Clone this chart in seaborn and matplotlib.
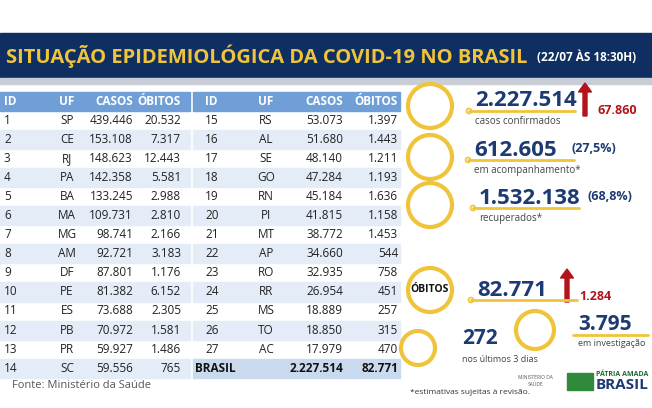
import matplotlib
matplotlib.use("Agg")
import matplotlib.pyplot as plt
import seaborn as sns
from matplotlib.patches import Rectangle, Circle, FancyArrow

sns.set_theme(style="white", font="Open Sans")

ids1 = list(range(1, 15))
uf1 = ["SP","CE","RJ","PA","BA","MA","MG","AM","DF","PE","ES","PB","PR","SC"]
casos1 = ["439.446","153.108","148.623","142.358","133.245","109.731","98.741","92.721","87.801","81.382","73.688","70.972","59.927","59.556"]
obitos1 = ["20.532","7.317","12.443","5.581","2.988","2.810","2.166","3.183","1.176","6.152","2.305","1.581","1.486","765"]
ids2 = list(range(15, 28))
uf2 = ["RS","AL","SE","GO","RN","PI","MT","AP","RO","RR","MS","TO","AC"]
casos2 = ["53.073","51.680","48.140","47.284","45.184","41.815","38.772","34.660","32.935","26.954","18.889","18.850","17.979"]
obitos2 = ["1.397","1.443","1.211","1.193","1.636","1.158","1.453","544","758","451","257","315","470"]
total_casos, total_obitos = "2.227.514", "82.771"

NAVY = "#1d3a74"; GOLD = "#f0c43a"; RED = "#b3141c"; HDR = "#6f9fd6"; ROWC = "#e3ecf7"

fig = plt.figure(figsize=(6.52, 4.08), dpi=100)
ax = fig.add_axes([0, 0, 1, 1])
ax.set_xlim(0, 652); ax.set_ylim(408, 0); ax.axis("off")

# title band
ax.add_patch(Rectangle((0, 33), 652, 45, color="#0f2e62"))
ax.add_patch(Rectangle((0, 78), 652, 6, color="#c9cdd6"))
ax.text(6, 56, "SITUAÇÃO EPIDEMIOLÓGICA DA COVID-19 NO BRASIL", color=GOLD, fontsize=14.5,
        fontweight="bold", va="center", family="Open Sans")
ax.text(537, 57, "(22/07 ÀS 18:30H)", color="white", fontsize=8.5, fontweight="bold", va="center")

def table(x0, ids, ufs, cs, os_, xs):
    ax.add_patch(Rectangle((x0, 92), 190 if x0 == 0 else 207, 19, color=HDR))
    for lab, x, ha in zip(["ID", "UF", "CASOS", "ÓBITOS"], xs, ["left", "center", "right", "right"]):
        ax.text(x, 101.5, lab, color="white", fontsize=8.5, fontweight="bold", ha=ha, va="center")
    for i, (a, b, c, d) in enumerate(zip(ids, ufs, cs, os_)):
        y = 120 + i * 19.1
        if i % 2 == 1:
            ax.add_patch(Rectangle((x0, y - 9.5), 190 if x0 == 0 else 207, 19.1, color=ROWC))
        for v, x, ha in zip([str(a), b, c, d], xs, ["left", "center", "right", "right"]):
            ax.text(x, y, v, color="#222222", fontsize=8.5, ha=ha, va="center")

table(0, ids1, uf1, casos1, obitos1, [4, 67, 133, 181])
table(193, ids2, uf2, casos2, obitos2, [205, 266, 343, 398])
yb = 120 + 13 * 19.1
ax.add_patch(Rectangle((193, yb - 9.5), 207, 19.1, color="#c9d9ee"))
ax.text(195, yb, "BRASIL", fontsize=8.5, fontweight="bold", va="center", color="#111")
ax.text(343, yb, total_casos, fontsize=8.5, fontweight="bold", va="center", ha="right", color="#111")
ax.text(398, yb, total_obitos, fontsize=8.5, fontweight="bold", va="center", ha="right", color="#111")
ax.text(12, 385, "Fonte: Ministério da Saúde", fontsize=8, color="#555", va="center")

# right panel
big = [("2.227.514", 475, 101, "casos confirmados"),
       ("612.605", 474, 150, "em acompanhamento*"),
       ("1.532.138", 479, 198, "recuperados*"),
       ("82.771", 477, 290, None)]
circ_y = [106, 157, 205, 290]
for (val, x, y, lab), cy in zip(big, circ_y):
    ax.add_patch(Circle((430, cy), 22, fill=False, ec=GOLD, lw=3))
    ax.text(x, y, val, fontsize=16, fontweight="bold", color=NAVY, va="center")
    ax.plot([x - 6, x + 100], [y + 10, y + 10], color=GOLD, lw=2)
    ax.add_patch(Circle((x - 6, y + 10), 2.5, fc="white", ec=GOLD, lw=1.2))
    if lab:
        ax.text(x, y + 21, lab, fontsize=7, color="#444", va="center")
ax.text(430, 290, "ÓBITOS", fontsize=7.5, fontweight="bold", ha="center", va="center", color="#111")
ax.text(572, 148, "(27,5%)", fontsize=9, fontweight="bold", color=NAVY, va="center")
ax.text(588, 196, "(68,8%)", fontsize=9, fontweight="bold", color=NAVY, va="center")
for ax0, y0, val in [(585, 116, "67.860"), (567, 302, "1.284")]:
    ax.add_patch(FancyArrow(ax0, y0, 0, -24, width=4, head_width=13, head_length=9, color=RED))
    ax.text(ax0 + 12, y0 - 6, val, fontsize=9, fontweight="bold", color=RED, va="center")

ax.add_patch(Circle((418, 348), 17, fill=False, ec=GOLD, lw=3))
ax.text(462, 339, "272", fontsize=15, fontweight="bold", color=NAVY, va="center")
ax.text(462, 359, "nos últimos 3 dias", fontsize=6.5, color="#444", va="center")
ax.add_patch(Circle((535, 330), 19, fill=False, ec=GOLD, lw=3))
ax.text(578, 324, "3.795", fontsize=15, fontweight="bold", color=NAVY, va="center")
ax.plot([573, 648], [335, 335], color=GOLD, lw=2)
ax.text(578, 343, "em investigação", fontsize=6.5, color="#444", va="center")
ax.text(410, 393, "*estimativas sujeitas à revisão.", fontsize=6, color="#333", va="center")
ax.text(535, 381, "MINISTÉRIO DA\nSAÚDE", fontsize=3.5, color="#555", ha="center", va="center")
ax.add_patch(Rectangle((567, 373), 26, 17, color="#2f8a3c"))
ax.text(596, 375, "PÁTRIA AMADA", fontsize=5, fontweight="bold", color="#1e6b30", va="center")
ax.text(596, 385, "BRASIL", fontsize=11, fontweight="bold", color="#1d3a74", va="center")

fig.savefig("out.png", dpi=100)
